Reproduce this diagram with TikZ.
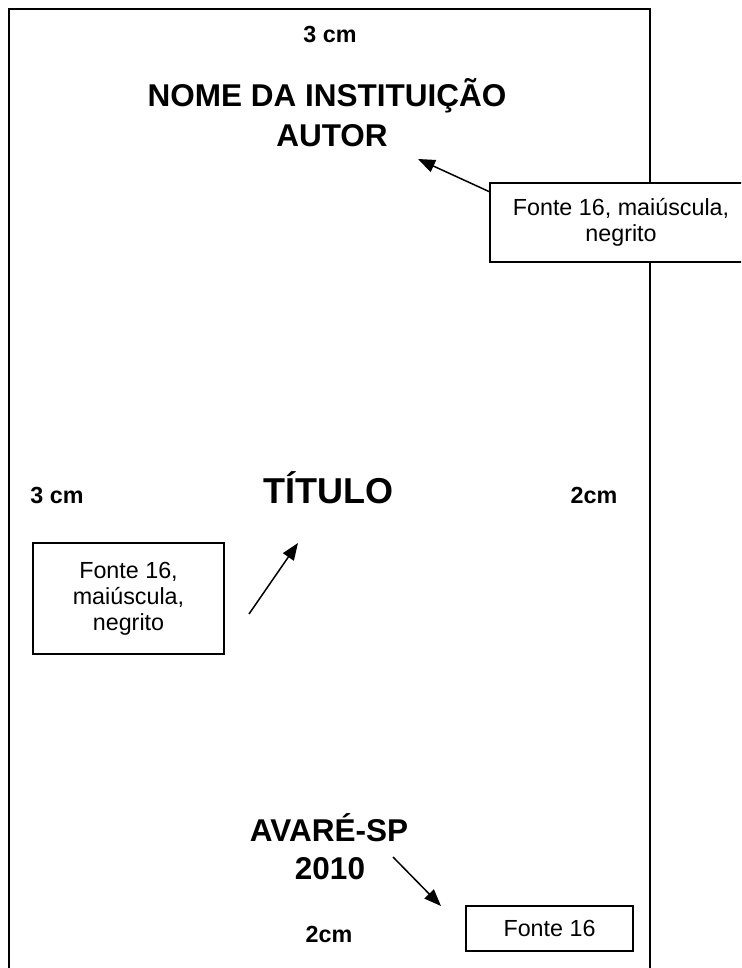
\documentclass[tikz,border=0pt]{standalone}
\usepackage{fontspec}
\setmainfont{Liberation Sans}
\usetikzlibrary{arrows.meta}
\tikzset{
  pageline/.style={line width=1.7pt, line cap=rect},
  lbl/.style={inner sep=0pt, anchor=base, font=\fontsize{23.3}{26}\selectfont\bfseries},
  big/.style={inner sep=0pt, anchor=base, font=\fontsize{31.5}{38}\selectfont\bfseries},
  huge/.style={inner sep=0pt, anchor=base, font=\fontsize{36}{40}\selectfont\bfseries},
  note/.style={draw, line width=1.5pt, fill=white, inner sep=0pt, align=center,
    font=\fontsize{23.3}{26}\selectfont},
  ptr/.style={line width=1.5pt, -{Triangle[length=17pt,width=13pt]}}
}
\begin{document}
\begin{tikzpicture}[x=1pt,y=-1pt]
\useasboundingbox (0,0) rectangle (741,968);
\clip (0,0) rectangle (741,968);
% page outline
\draw[pageline] (9,980) -- (9,9) -- (650,9) -- (650,980);
% texts
\node[lbl] (topm) at (330,43) {3 cm};
\node[big] (inst) at (327,107) {NOME DA INSTITUIÇÃO};
\node[big] (autor) at (332,147) {AUTOR};
\node[lbl] (leftm) at (57,503) {3 cm};
\node[huge] (titulo) at (328,503) {TÍTULO};
\node[lbl] (rightm) at (594,503) {2cm};
\node[big] (cidade) at (329,841) {AVARÉ-SP};
\node[big] (ano) at (330,879) {2010};
\node[lbl] (botm) at (329,942) {2cm};
% note boxes
\node[note, minimum width=262pt, minimum height=79pt] (n1) at (621,222.5)
  {Fonte 16, maiúscula,\\negrito};
\node[note, minimum width=191pt, minimum height=111pt] (n2) at (128.5,598.5)
  {Fonte 16,\\maiúscula,\\negrito};
\node[note, minimum width=167pt, minimum height=45pt] (n3) at (549.5,928.5)
  {Fonte 16};
% arrows
\coordinate (a1s) at (490,192);
\coordinate (a1e) at (418,159);
\coordinate (a2s) at (249,614);
\coordinate (a2e) at (298,543);
\coordinate (a3s) at (393,857);
\coordinate (a3e) at (441,906);
\draw[ptr] (a1s) -- (a1e);
\draw[ptr] (a2s) -- (a2e);
\draw[ptr] (a3s) -- (a3e);
\end{tikzpicture}
\end{document}
